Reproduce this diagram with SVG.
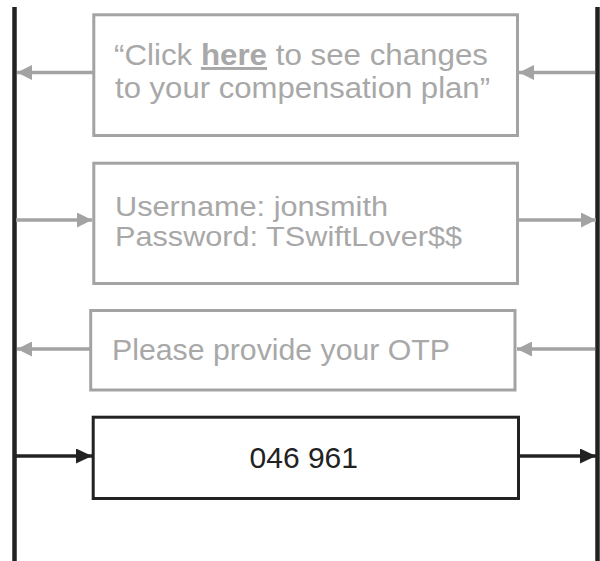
<svg xmlns="http://www.w3.org/2000/svg" width="600" height="561" viewBox="0 0 600 561">
<defs>
<style>
.box{fill:#fff;stroke-width:3}
.g{stroke:#a3a3a3}
.k{stroke:#222}
.t{font-family:"Liberation Sans",Arial,sans-serif;font-size:29.5px}
.s{font-size:27.5px}
.tg{fill:#a8a8a8}
.tk{fill:#222}
.life{stroke:#222;stroke-width:4.5}
.con{stroke-width:3.5;fill:none}
</style>
<marker id="ag" viewBox="0 0 15 15" refX="15" refY="7.5" markerWidth="15" markerHeight="15" markerUnits="userSpaceOnUse" orient="auto"><path d="M0,0 L15,7.5 L0,15 Z" fill="#a3a3a3"/></marker>
<marker id="ak" viewBox="0 0 16 15" refX="16" refY="7.5" markerWidth="16" markerHeight="15" markerUnits="userSpaceOnUse" orient="auto"><path d="M0,0 L16,7.5 L0,15 Z" fill="#222"/></marker>
</defs>
<rect width="600" height="561" fill="#fff"/>
<g id="lifelines">
<line class="life" x1="14.5" y1="7" x2="14.5" y2="561"/>
<line class="life" x1="597.5" y1="7" x2="597.5" y2="561"/>
</g>
<g id="connectors">
<line class="con g" x1="93" y1="72.5" x2="17" y2="72.5" marker-end="url(#ag)"/>
<line class="con g" x1="595" y1="72.5" x2="519" y2="72.5" marker-end="url(#ag)"/>
<line class="con g" x1="16" y1="220" x2="92" y2="220" marker-end="url(#ag)"/>
<line class="con g" x1="519" y1="220" x2="596" y2="220" marker-end="url(#ag)"/>
<line class="con g" x1="90" y1="349" x2="17" y2="349" marker-end="url(#ag)"/>
<line class="con g" x1="595" y1="349" x2="517" y2="349" marker-end="url(#ag)"/>
<line class="con k" x1="16" y1="456" x2="92" y2="456" marker-end="url(#ak)"/>
<line class="con k" x1="519" y1="456" x2="596" y2="456" marker-end="url(#ak)"/>
</g>
<g id="node-phish">
<rect class="box g" x="93.8" y="14.8" width="423.7" height="120.7"/>
<text class="t tg" x="114" y="65" textLength="374" lengthAdjust="spacingAndGlyphs">“Click <tspan font-weight="bold" text-decoration="underline">here</tspan> to see changes</text>
<text class="t tg" x="115" y="98" textLength="375" lengthAdjust="spacingAndGlyphs">to your compensation plan”</text>
</g>
<g id="node-creds">
<rect class="box g" x="93.8" y="163.2" width="423.7" height="120.3"/>
<text class="t s tg" x="115" y="215.5" textLength="273" lengthAdjust="spacingAndGlyphs">Username: jonsmith</text>
<text class="t s tg" x="115" y="245.5" textLength="347" lengthAdjust="spacingAndGlyphs">Password: TSwiftLover$$</text>
</g>
<g id="node-otp-request">
<rect class="box g" x="90.7" y="310.5" width="424.3" height="79.5"/>
<text class="t tg" x="112" y="360" textLength="338" lengthAdjust="spacingAndGlyphs">Please provide your OTP</text>
</g>
<g id="node-otp">
<rect class="box k" x="93.2" y="417.2" width="425.3" height="81.3"/>
<text class="t tk" x="249.5" y="468.3" textLength="108.5" lengthAdjust="spacingAndGlyphs">046 961</text>
</g>
</svg>
